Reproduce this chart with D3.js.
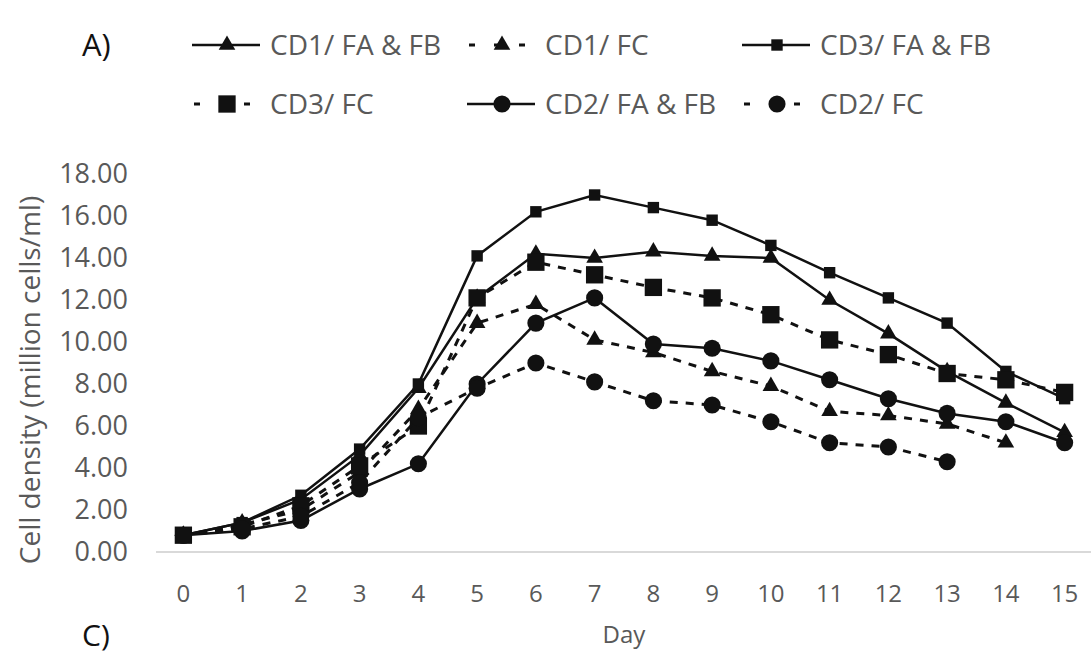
<!DOCTYPE html>
<html>
<head>
<meta charset="utf-8">
<script src="https://cdn.jsdelivr.net/npm/d3@7"></script>
<style>
  body { margin: 0; background: #fff; }
  text { font-family: "Open Sans", sans-serif; fill: #595959; }
</style>
</head>
<body>
<div id="graph"></div>
<script>
// days on the x axis
var days = [0, 1, 2, 3, 4, 5, 6, 7, 8, 9, 10, 11, 12, 13, 14, 15];

// y tick labels
var yTicks = [0, 2, 4, 6, 8, 10, 12, 14, 16, 18];

// series values (million cells/ml), null where no point was measured
var cd1FaFb = [0.8, 1.4, 2.5, 4.6, 7.8, 12.1, 14.2, 14.0, 14.3, 14.1, 14.0, 12.0, 10.4, 8.6, 7.1, 5.7];
var cd1Fc   = [0.8, 1.3, 2.0, 3.8, 6.8, 10.9, 11.8, 10.1, 9.5, 8.6, 7.9, 6.7, 6.5, 6.1, 5.2, null];
var cd3FaFb = [0.8, 1.4, 2.7, 4.9, 8.0, 14.1, 16.2, 17.0, 16.4, 15.8, 14.6, 13.3, 12.1, 10.9, 8.6, 7.3];
var cd3Fc   = [0.8, 1.2, 2.2, 4.1, 6.0, 12.1, 13.8, 13.2, 12.6, 12.1, 11.3, 10.1, 9.4, 8.5, 8.2, 7.6];
var cd2FaFb = [0.8, 1.0, 1.5, 3.0, 4.2, 8.0, 10.9, 12.1, 9.9, 9.7, 9.1, 8.2, 7.3, 6.6, 6.2, 5.2];
var cd2Fc   = [0.8, 1.1, 1.7, 3.3, 6.4, 7.8, 9.0, 8.1, 7.2, 7.0, 6.2, 5.2, 5.0, 4.3, null, null];

// legend names, in legend order
var names = ["CD1/ FA & FB", "CD1/ FC", "CD3/ FA & FB", "CD3/ FC", "CD2/ FA & FB", "CD2/ FC"];

var series = [
  { name: names[0], values: cd1FaFb, shape: d3.symbolTriangle, size: 120, dashed: false },
  { name: names[1], values: cd1Fc,   shape: d3.symbolTriangle, size: 120, dashed: true },
  { name: names[2], values: cd3FaFb, shape: d3.symbolSquare,   size: 130, dashed: false },
  { name: names[3], values: cd3Fc,   shape: d3.symbolSquare,   size: 300, dashed: true },
  { name: names[4], values: cd2FaFb, shape: d3.symbolCircle,   size: 230, dashed: false },
  { name: names[5], values: cd2Fc,   shape: d3.symbolCircle,   size: 230, dashed: true }
];

var W = 1091, H = 655;

var svg = d3.select("#graph").append("svg")
    .attr("width", W)
    .attr("height", H);

// scales
var x = d3.scalePoint().domain(days).range([154, 1094]).padding(0.5),
    y = d3.scaleLinear().domain([0, 18]).range([552, 174]);

// panel letters
svg.append("text").attr("x", 82).attr("y", 56)
    .style("font-size", "31px").style("fill", "#111").text("A)");
svg.append("text").attr("x", 82).attr("y", 646)
    .style("font-size", "30px").style("fill", "#111").text("C)");

// x axis line
svg.append("line")
    .attr("x1", 156).attr("x2", 1091)
    .attr("y1", y(0)).attr("y2", y(0))
    .attr("stroke", "#d9d9d9").attr("stroke-width", 2);

// y tick labels
svg.selectAll(".ytick")
  .data(yTicks)
  .enter().append("text")
    .attr("class", "ytick")
    .attr("x", 128)
    .attr("y", function(d){ return y(d); })
    .attr("dy", "0.35em")
    .attr("text-anchor", "end")
    .style("font-size", "27px")
    .text(function(d){ return d3.format(".2f")(d); });

// x tick labels
svg.selectAll(".xtick")
  .data(days)
  .enter().append("text")
    .attr("class", "xtick")
    .attr("x", function(d){ return x(d); })
    .attr("y", 602)
    .attr("text-anchor", "middle")
    .style("font-size", "24px")
    .text(function(d){ return d; });

// axis titles
svg.append("text")
    .attr("x", (x(7) + x(8)) / 2).attr("y", 643)
    .attr("text-anchor", "middle")
    .style("font-size", "24px")
    .text("Day");

svg.append("text")
    .attr("transform", "translate(40," + 380 + ") rotate(-90)")
    .attr("text-anchor", "middle")
    .style("font-size", "28px")
    .text("Cell density (million cells/ml)");

// lines
var line = d3.line()
    .defined(function(d){ return d.v !== null; })
    .x(function(d){ return x(d.day); })
    .y(function(d){ return y(d.v); });

var g = svg.selectAll(".series")
  .data(series)
  .enter().append("g")
    .attr("class", "series");

g.append("path")
    .attr("d", function(s){
      return line(s.values.map(function(v, i){ return { day: days[i], v: v }; }));
    })
    .attr("fill", "none")
    .attr("stroke", "#111")
    .attr("stroke-width", function(s){ return s.dashed ? 3 : 2.5; })
    .attr("stroke-dasharray", function(s){ return s.dashed ? "8,8" : null; });

g.selectAll(".pt")
  .data(function(s){
    return s.values
      .map(function(v, i){ return { day: days[i], v: v, s: s }; })
      .filter(function(d){ return d.v !== null; });
  })
  .enter().append("path")
    .attr("class", "pt")
    .attr("transform", function(d){ return "translate(" + x(d.day) + "," + y(d.v) + ")"; })
    .attr("d", function(d){ return d3.symbol().type(d.s.shape).size(d.s.size)(); })
    .attr("fill", "#111");

// legend, 3 columns x 2 rows
var legend = svg.selectAll(".legend")
  .data(series)
  .enter().append("g")
    .attr("class", "legend")
    .attr("transform", function(s, i){
      return "translate(" + (192 + (i % 3) * 275) + "," + (45 + Math.floor(i / 3) * 59) + ")";
    });

legend.append("line")
    .attr("x1", 0).attr("x2", 68)
    .attr("stroke", "#111")
    .attr("stroke-width", function(s){ return s.dashed ? 3 : 2.5; })
    .attr("stroke-dasharray", function(s){ return s.dashed ? "6,19" : null; })
    .attr("stroke-dashoffset", function(s){ return s.dashed ? -2 : null; });

legend.append("path")
    .attr("transform", "translate(35,0)")
    .attr("d", function(s){ return d3.symbol().type(s.shape).size(s.size)(); })
    .attr("fill", "#111");

legend.append("text")
    .attr("x", 78)
    .attr("dy", "0.35em")
    .style("font-size", "28px")
    .text(function(s){ return s.name; });
</script>
</body>
</html>
